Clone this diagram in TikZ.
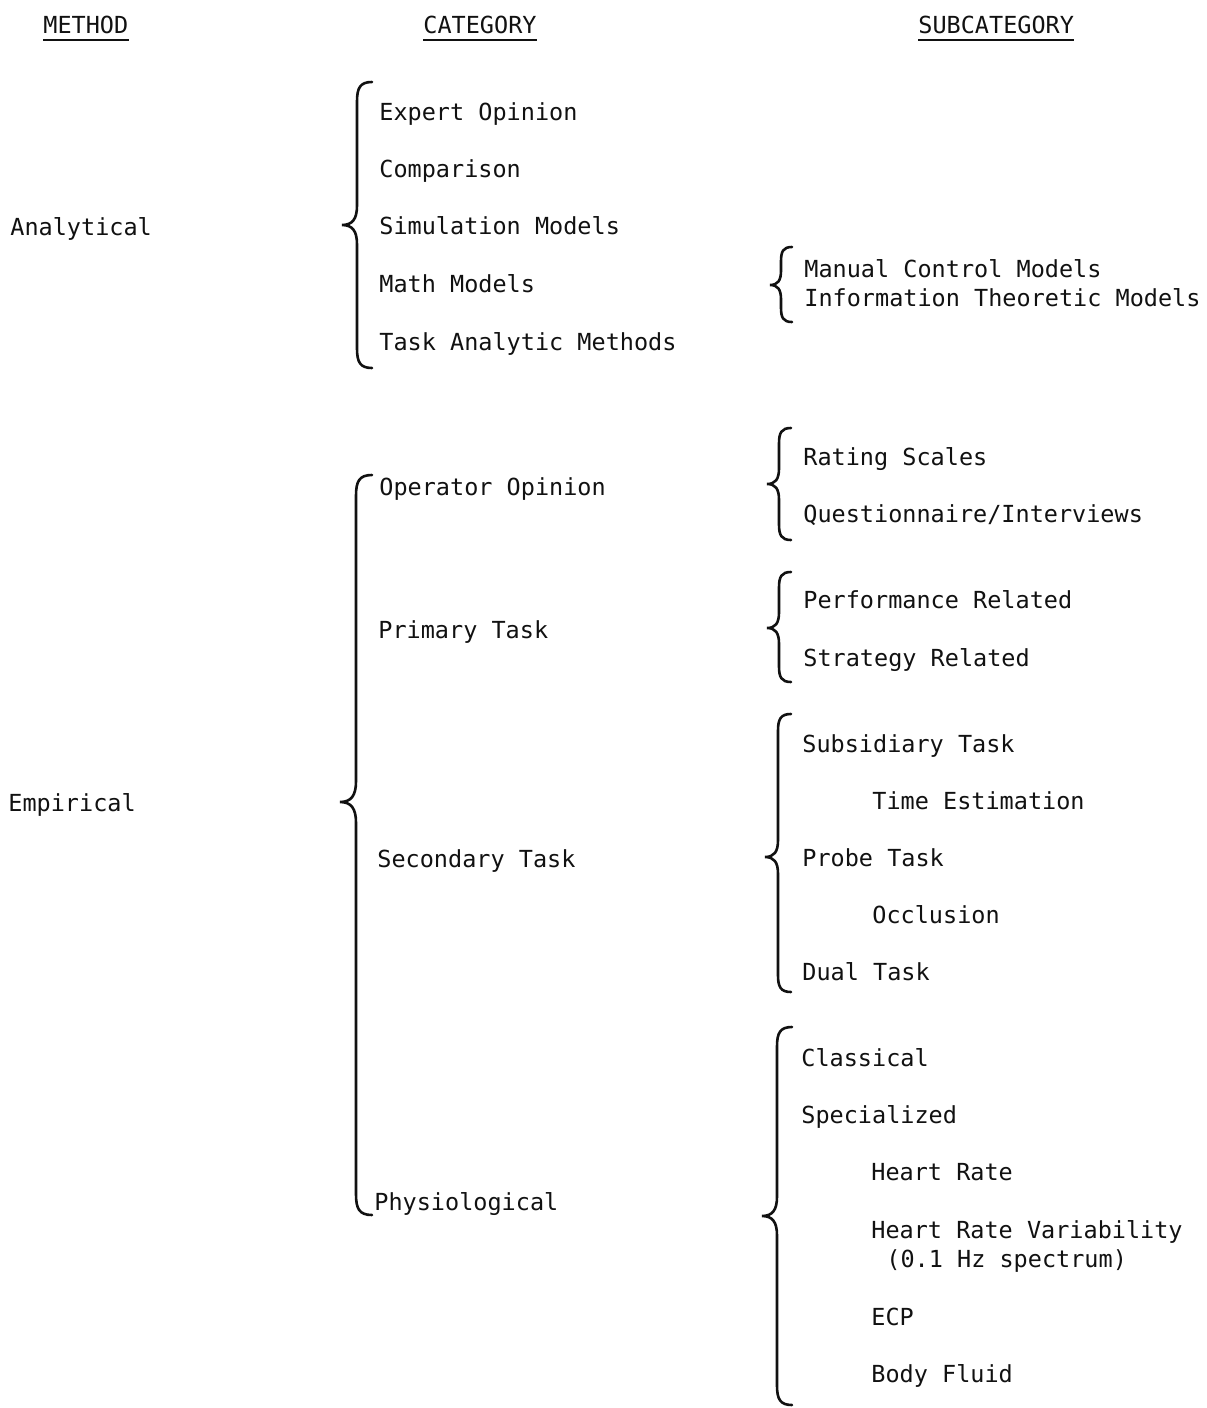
\documentclass[tikz,border=0pt]{standalone}
\usepackage{fontspec}
\setmonofont{DejaVu Sans Mono}
\usetikzlibrary{positioning,calc}
\definecolor{Ink}{HTML}{111111}
\tikzset{entry/.style={anchor=base west,inner sep=0pt,font=\ttfamily\fontsize{11.75}{14}\selectfont,text=Ink},
  heading/.style={entry},
  headrule/.style={draw=Ink,line width=1pt},
  brace/.style={draw=Ink,line width=1.3pt,line cap=round}}
% #1 x of the stem, #2 top, #3 tip, #4 bottom, #5 half width
\newcommand{\catbrace}[5]{%
  \draw[brace] ({#1+#5},{#2}) .. controls ({#1+0.2*#5},{#2}) and ({#1},{#2+0.4*#5}) .. ({#1},{#2+1.3*#5})
    -- ({#1},{#3-1.3*#5}) .. controls ({#1},{#3-0.4*#5}) and ({#1-0.3*#5},{#3}) .. ({#1-#5},{#3})
    .. controls ({#1-0.3*#5},{#3}) and ({#1},{#3+0.4*#5}) .. ({#1},{#3+1.3*#5})
    -- ({#1},{#4-1.3*#5}) .. controls ({#1},{#4-0.4*#5}) and ({#1+0.2*#5},{#4}) .. ({#1+#5},{#4});}
\begin{document}
\begin{tikzpicture}[x=0.5pt,y=-0.5pt]
    \useasboundingbox (0,0) rectangle (1206,1408);
    % column headings
    \node[heading] (method) at (43,33) {METHOD};
    \node[heading] (category) at (423,33) {CATEGORY};
    \node[heading] (subcategory) at (918,33) {SUBCATEGORY};
    \foreach \h in {method,category,subcategory}
      \draw[headrule] ([yshift=-3.5pt]\h.base west) -- ([yshift=-3.5pt]\h.base east);
    % analytical branch
    \node[entry] (analytical) at (10,235) {Analytical};
    \node[entry] (expert) at (379,120) {Expert Opinion};
    \node[entry] (comparison) at (379,177) {Comparison};
    \node[entry] (simulation) at (379,234) {Simulation Models};
    \node[entry] (math) at (379,292) {Math Models};
    \node[entry] (taskanalytic) at (379,350) {Task Analytic Methods};
    \catbrace{357}{82}{225}{368}{15}
    \node[entry] (manual) at (804,277) {Manual Control Models};
    \node[entry] (information) at (804,306) {Information Theoretic Models};
    \catbrace{781}{247}{285}{322}{11}
    % empirical branch
    \node[entry] (empirical) at (8,811) {Empirical};
    \node[entry] (operator) at (379,495) {Operator Opinion};
    \node[entry] (primary) at (378,638) {Primary Task};
    \node[entry] (secondary) at (377,867) {Secondary Task};
    \node[entry] (physio) at (374,1210) {Physiological};
    \catbrace{356}{475}{802}{1215}{16}
    \node[entry] (rating) at (803,465) {Rating Scales};
    \node[entry] (questionnaire) at (803,522) {Questionnaire/Interviews};
    \catbrace{779}{428}{484}{540}{12}
    \node[entry] (performance) at (803,608) {Performance Related};
    \node[entry] (strategy) at (803,666) {Strategy Related};
    \catbrace{779}{572}{628}{682}{12}
    \node[entry] (subsidiary) at (802,752) {Subsidiary Task};
    \node[entry] (timeest) at (872,809) {Time Estimation};
    \node[entry] (probe) at (802,866) {Probe Task};
    \node[entry] (occlusion) at (872,923) {Occlusion};
    \node[entry] (dual) at (802,980) {Dual Task};
    \catbrace{778}{714}{857}{992}{13}
    \node[entry] (classical) at (801,1066) {Classical};
    \node[entry] (specialized) at (801,1123) {Specialized};
    \node[entry] (heartrate) at (871,1180) {Heart Rate};
    \node[entry] (hrv) at (871,1238) {Heart Rate Variability};
    \node[entry] (spectrum) at (886,1267) {(0.1 Hz spectrum)};
    \node[entry] (ecp) at (871,1325) {ECP};
    \node[entry] (fluid) at (871,1382) {Body Fluid};
    \catbrace{777}{1027}{1216}{1405}{15}
  \end{tikzpicture}
\end{document}
